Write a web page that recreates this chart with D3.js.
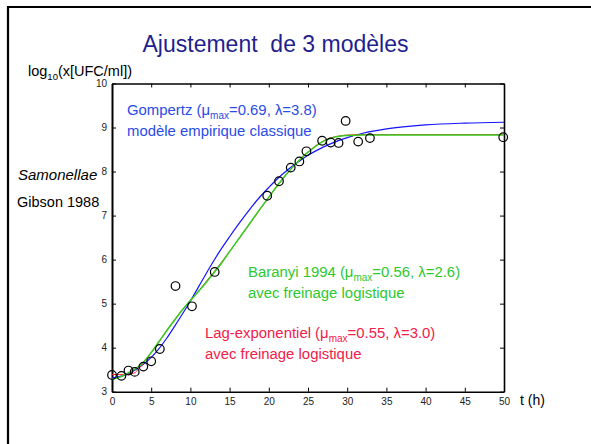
<!DOCTYPE html>
<html><head><meta charset="utf-8">
<script src="https://cdn.jsdelivr.net/npm/d3@7"></script>
<style>
html,body{margin:0;padding:0;background:#fff;}
svg{display:block;font-family:"Liberation Sans",Arial,Helvetica,sans-serif;}
</style></head>
<body>
<svg id="c" width="591" height="444"></svg>
<script>
// Observed data (Gibson 1988, Salmonellae)
const tObs = [0,1.2,2.1,2.9,4.0,5.0,6.1,8.1,10.2,13.1,19.8,21.3,22.8,23.9,24.8,26.8,27.9,28.9,29.8,31.4,32.9,49.9];
const yObs = [3.38,3.36,3.48,3.45,3.57,3.69,3.97,5.40,4.94,5.72,7.45,7.78,8.09,8.23,8.46,8.70,8.66,8.65,9.15,8.68,8.76,8.78];

// Fitted curves
const tGomp = [0,2,4,5,6,7,8,9,10,11,12,13,14,15,16,17,18,19,20,21,22,23,24,25,26,27,28,30,32,35,40,45,50];
const yGomp = [3.31,3.40,3.62,3.78,3.98,4.22,4.49,4.77,5.06,5.37,5.68,5.98,6.26,6.52,6.77,7.01,7.24,7.45,7.64,7.82,7.98,8.12,8.25,8.37,8.47,8.56,8.64,8.77,8.87,8.97,9.06,9.10,9.12];

const tBar = [0,1,2,3,4,5,6,7,8,9,10,11,12,13,14,15,16,17,18,19,20,21,22,23,24,25,26,27,28,29,30,32,35,50];
const yBar = [3.28,3.33,3.42,3.52,3.67,3.89,4.14,4.39,4.63,4.86,5.07,5.27,5.48,5.70,5.93,6.18,6.43,6.68,6.93,7.18,7.42,7.66,7.89,8.09,8.28,8.44,8.58,8.69,8.76,8.80,8.82,8.83,8.83,8.83];

const tLag = [0,1,2,2.8,3.5,4,5,6,7,8,9,10,11,12,13,14,15,16,17,18,19,20,21,22,23,24,25,26,27,28,29,30,32,50];
const yLag = [3.39,3.39,3.40,3.42,3.54,3.65,3.88,4.13,4.40,4.64,4.87,5.08,5.28,5.50,5.72,5.95,6.19,6.43,6.67,6.92,7.17,7.41,7.65,7.88,8.09,8.28,8.44,8.59,8.70,8.77,8.81,8.83,8.84,8.84];

const xTicks = [0,5,10,15,20,25,30,35,40,45,50];
const yTicks = [3,4,5,6,7,8,9,10];

const svg = d3.select("#c");
svg.append("rect").attr("width",591).attr("height",444).attr("fill","#fff");
// outer frame (left and top only visible)
svg.append("path").attr("d","M8,444 L8,7 L591,7").attr("fill","none").attr("stroke","#000").attr("stroke-width",2.2);

const x = d3.scaleLinear().domain([0,50]).range([112,504]);
const y = d3.scaleLinear().domain([3,10]).range([391.7,83.5]);

// axes
const gB = svg.append("g").attr("transform",`translate(0,${y(3)})`)
  .call(d3.axisBottom(x).tickValues(xTicks).tickSizeInner(-4).tickSizeOuter(0).tickPadding(6).tickFormat(d3.format("d")));
const gT = svg.append("g").attr("transform",`translate(0,${y(10)})`)
  .call(d3.axisTop(x).tickValues(xTicks).tickSizeInner(-4).tickSizeOuter(0).tickFormat(""));
const gL = svg.append("g").attr("transform",`translate(${x(0)},0)`)
  .call(d3.axisLeft(y).tickValues(yTicks).tickSizeInner(-4).tickSizeOuter(0).tickPadding(5).tickFormat(d3.format("d")));
const gR = svg.append("g").attr("transform",`translate(${x(50)},0)`)
  .call(d3.axisRight(y).tickValues(yTicks).tickSizeInner(-4).tickSizeOuter(0).tickFormat(""));
[gB,gT,gL,gR].forEach(g=>{
  g.select(".domain").attr("stroke","#000").attr("stroke-width",1.6);
  g.selectAll(".tick line").attr("stroke","#000").attr("stroke-width",1);
  g.selectAll(".tick text").attr("fill","#222").attr("font-size","10px").attr("font-family","Liberation Sans, Arial, sans-serif");
});
gL.select(".domain").attr("stroke-width",2);

// curves
const line = (ts,ys)=>d3.line().x((d,i)=>x(ts[i])).y((d,i)=>y(ys[i])).curve(d3.curveMonotoneX)(ts);
svg.append("path").attr("d",line(tGomp,yGomp)).attr("fill","none").attr("stroke","#1414ff").attr("stroke-width",1.2);
svg.append("path").attr("d",line(tLag,yLag)).attr("fill","none").attr("stroke","#ff1a1a").attr("stroke-width",0.9);
svg.append("path").attr("d",line(tBar,yBar)).attr("fill","none").attr("stroke","#33cc22").attr("stroke-width",1.5);

// observations
svg.append("g").selectAll("circle").data(tObs).join("circle")
  .attr("cx",(d,i)=>x(tObs[i])).attr("cy",(d,i)=>y(yObs[i])).attr("r",4.3)
  .attr("fill","none").attr("stroke","#000").attr("stroke-width",1.2);

// texts
svg.append("text").attr("x",275.5).attr("y",51.7).attr("text-anchor","middle")
  .attr("font-size","23px").attr("fill","#1f1f8f").style("white-space","pre")
  .text("Ajustement  de 3 modèles");

const yl = svg.append("text").attr("x",28).attr("y",76).attr("font-size","14.5px").attr("fill","#000");
yl.append("tspan").text("log");
yl.append("tspan").attr("font-size","9.5px").attr("dy",4).text("10");
yl.append("tspan").attr("dy",-4).text("(x[UFC/ml])");

svg.append("text").attr("x",18).attr("y",180).attr("font-size","15px").attr("font-style","italic").attr("fill","#000").text("Samonellae");
svg.append("text").attr("x",17).attr("y",207).attr("font-size","14.5px").attr("fill","#000").text("Gibson 1988");
svg.append("text").attr("x",520).attr("y",405).attr("font-size","14px").attr("fill","#000").text("t (h)");

function note(xp, yp, color, name, mu, lam, line2){
  const t = svg.append("text").attr("x",xp).attr("y",yp).attr("font-size","14.9px").attr("fill",color);
  t.append("tspan").text(name+" (μ");
  t.append("tspan").attr("font-size","10px").attr("dy",4).text("max");
  t.append("tspan").attr("dy",-4).text("="+mu+", λ="+lam+")");
  svg.append("text").attr("x",xp).attr("y",yp+21).attr("font-size","14.9px").attr("fill",color).text(line2);
}
note(127,114.5,"#2a4ce6","Gompertz","0.69","3.8","modèle empirique classique");
note(248,277,"#2ec82e","Baranyi 1994","0.56","2.6","avec freinage logistique");
note(205,338,"#f0204a","Lag-exponentiel","0.55","3.0","avec freinage logistique");
</script>
</body></html>
